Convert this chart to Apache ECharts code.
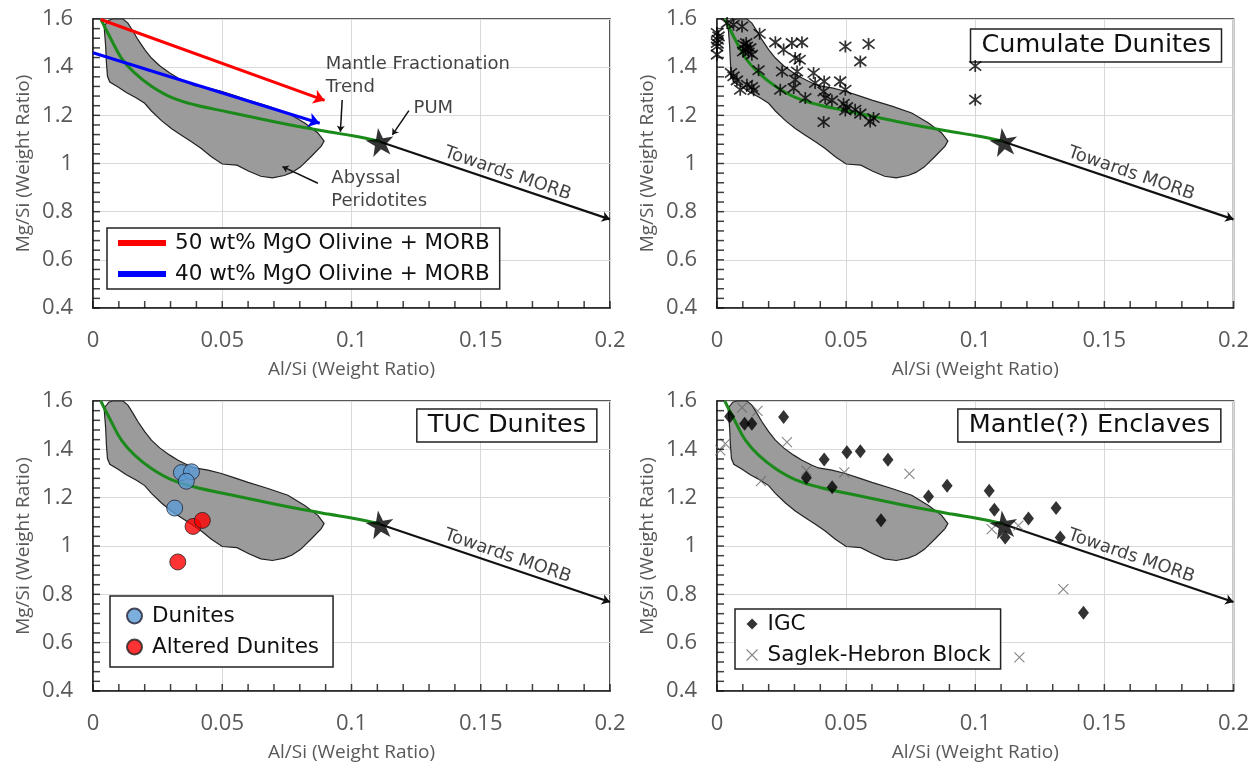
<!DOCTYPE html>
<html>
<head>
<meta charset="utf-8">
<script src="https://cdn.jsdelivr.net/npm/echarts@6/dist/echarts.min.js"></script>
<style>html,body{margin:0;padding:0;background:#fff}#c{width:1260px;height:766px}</style>
</head>
<body>
<div id="c"></div>
<script>
// ---------- data ----------
const xTickValues = [0, 0.05, 0.1, 0.15, 0.2];
const yTickValues = [0.4, 0.6, 0.8, 1.0, 1.2, 1.4, 1.6];
const xMinorTicks = [0,0.01,0.02,0.03,0.04,0.05,0.06,0.07,0.08,0.09,0.1,0.11,0.12,0.13,0.14,0.15,0.16,0.17,0.18,0.19,0.2];
const yMinorTicks = [0.4,0.44,0.48,0.52,0.56,0.6,0.64,0.68,0.72,0.76,0.8,0.84,0.88,0.92,0.96,1.0,1.04,1.08,1.12,1.16,1.2,1.24,1.28,1.32,1.36,1.4,1.44,1.48,1.52,1.56,1.6];

const peridotiteField = [
  [0.0043,1.57],[0.0061,1.595],[0.0077,1.6],[0.0116,1.6],[0.0135,1.583],[0.0155,1.549],[0.0174,1.514],
  [0.020,1.473],[0.0226,1.438],[0.0258,1.406],[0.0297,1.376],[0.0329,1.355],[0.0368,1.334],[0.0393,1.323],
  [0.0445,1.314],[0.0497,1.300],[0.0548,1.282],[0.060,1.263],[0.0677,1.238],[0.0754,1.210],[0.0819,1.168],
  [0.087,1.127],[0.0894,1.093],[0.0883,1.072],[0.0845,1.030],[0.0802,0.985],[0.0770,0.963],[0.074,0.950],
  [0.0694,0.940],[0.0649,0.947],[0.0603,0.968],[0.0557,0.993],[0.0500,0.998],[0.0458,1.028],[0.0419,1.062],
  [0.0381,1.090],[0.0342,1.117],[0.0303,1.145],[0.0265,1.178],[0.0226,1.218],[0.020,1.250],[0.0168,1.272],
  [0.0129,1.295],[0.0097,1.318],[0.0065,1.338],[0.0056,1.362],[0.0052,1.417],[0.0049,1.487],[0.0045,1.542]
];
const fractionationTrend = [
  [0.003,1.6],[0.0071,1.514],[0.011,1.438],[0.0161,1.376],[0.0226,1.321],[0.0303,1.275],[0.0393,1.244],
  [0.0522,1.214],[0.0651,1.185],[0.078,1.157],[0.0909,1.132],[0.101,1.114],[0.111,1.092]
];
const pum = [0.111, 1.09];
const morbEnd = [0.2, 0.768];
const olivine50 = [[0.003,1.598],[0.0896,1.262]];
const olivine40 = [[0.0,1.46],[0.0877,1.167]];

const cumulateDunites = [
  [0.0,1.542],[0.0003,1.514],[0.0,1.500],[0.0,1.486],[0.0,1.452],[0.0006,1.528],[0.0039,1.583],[0.0064,1.576],
  [0.0097,1.569],[0.0165,1.539],[0.0103,1.493],[0.0116,1.486],[0.011,1.472],[0.0129,1.479],[0.0122,1.461],
  [0.0101,1.465],[0.0135,1.452],[0.0113,1.500],[0.0226,1.503],[0.0258,1.473],[0.029,1.500],[0.0329,1.503],
  [0.0303,1.438],[0.032,1.431],[0.0497,1.486],[0.0587,1.496],[0.0555,1.424],[0.0064,1.362],[0.0077,1.345],
  [0.0054,1.376],[0.009,1.306],[0.0116,1.327],[0.0135,1.318],[0.0142,1.304],[0.0161,1.387],[0.0252,1.382],
  [0.0245,1.306],[0.031,1.382],[0.0303,1.348],[0.0297,1.313],[0.0342,1.272],[0.0374,1.376],[0.038,1.334],
  [0.0415,1.341],[0.0413,1.299],[0.0419,1.272],[0.0445,1.262],[0.0477,1.341],[0.0497,1.306],[0.049,1.248],
  [0.0503,1.234],[0.0497,1.220],[0.0535,1.223],[0.0555,1.207],[0.0593,1.174],[0.0606,1.189],[0.0413,1.172],
  [0.100,1.405],[0.100,1.265]
];
const tucDunites = [[0.0342,1.304],[0.0381,1.307],[0.0361,1.268],[0.0316,1.157]];
const tucAltered = [[0.0387,1.081],[0.0423,1.106],[0.0328,0.934]];
const igc = [
  [0.0049,1.536],[0.0107,1.506],[0.0135,1.506],[0.0258,1.534],[0.0415,1.358],[0.0346,1.282],[0.0446,1.243],
  [0.0503,1.388],[0.0555,1.392],[0.0662,1.357],[0.0635,1.107],[0.0819,1.205],[0.0891,1.249],[0.1054,1.229],
  [0.1074,1.150],[0.1116,1.035],[0.1206,1.114],[0.1313,1.157],[0.1329,1.035],[0.1419,0.724]
];
const saglekHebron = [
  [0.0097,1.573],[0.0157,1.559],[0.0013,1.396],[0.0032,1.424],[0.0271,1.430],[0.017,1.268],[0.0346,1.312],
  [0.0493,1.305],[0.0745,1.298],[0.1064,1.070],[0.1167,1.084],[0.1341,0.822],[0.1171,0.539]
];

// annotation anchors (data space, top-left panel)
const noteMantle = [0.090, 1.3635];
const notePum = [0.124, 1.2295];
const noteAbyssal = [0.0922, 0.8925];
const noteMorb = [0.1604, 0.958];
const arrowMantle = [[0.0964,1.264],[0.0957,1.132]];
const arrowPum = [[0.1222,1.2195],[0.1158,1.119]];
const arrowAbyssal = [[0.0870,0.918],[0.0733,0.987]];

// ---------- chart ----------
const AX = 'Open Sans';
const TX = 'DejaVu Sans';
const grids = [
  {left:93, top:19, width:517, height:289},
  {left:717, top:19, width:516.5, height:289},
  {left:93, top:401, width:517, height:290},
  {left:717, top:401, width:516.5, height:290}
];
const STAR = 'path://M50,0L61.8,35.1L97.6,34.5L68.8,56L79.4,90.5L50,69.5L20.6,90.5L31.2,56L2.4,34.5L38.2,35.1Z';
const ASTER = 'path://M0,0L10,10M10,0L0,10M5,-1.5L5,11.5';
const CROSS = 'path://M0,0L10,10M10,0L0,10';
const TICK_LEN = 7;

const xAxes = [], yAxes = [];
grids.forEach((g,i)=>{
  xAxes.push({
    gridIndex:i, type:'value', min:0, max:0.2, interval:0.05,
    name:'Al/Si (Weight Ratio)', nameLocation:'middle', nameGap:52,
    nameTextStyle:{fontFamily:AX, fontSize:19, color:'#595959'},
    axisLine:{show:true, lineStyle:{color:'#222', width:1.5}},
    axisTick:{show:false},
    splitLine:{show:true, lineStyle:{color:'#d9d9d9', width:1}},
    axisLabel:{fontFamily:AX, fontSize:22, color:'#595959', margin:22,
      formatter:v=>{const t=xTickValues.find(u=>Math.abs(u-v)<1e-9);return t===undefined?'':String(t);}}
  });
  yAxes.push({
    gridIndex:i, type:'value', min:0.4, max:1.6, interval:0.2,
    name:'Mg/Si (Weight Ratio)', nameLocation:'middle', nameGap:60,
    nameTextStyle:{fontFamily:AX, fontSize:19, color:'#595959'},
    axisLine:{show:true, lineStyle:{color:'#222', width:1.5}},
    axisTick:{show:false},
    splitLine:{show:true, lineStyle:{color:'#d9d9d9', width:1}},
    axisLabel:{fontFamily:AX, fontSize:22, color:'#595959', margin:20,
      formatter:v=>{const t=yTickValues.find(u=>Math.abs(u-v)<1e-9);return t===undefined?'':String(+t.toFixed(1));}}
  });
});

const series = [];
function note(i, pos, text, extra){
  series.push({type:'scatter', xAxisIndex:i, yAxisIndex:i, silent:true, symbolSize:0, z:20,
    data:[pos],
    label:Object.assign({show:true, formatter:text, fontFamily:TX, fontSize:18, color:'#111',
      lineHeight:23, position:[0,0], align:'left', verticalAlign:'middle'}, extra||{})});
}
function arrow(i, coords, color, width, size, name, z){
  series.push({type:'lines', name:name, coordinateSystem:'cartesian2d', xAxisIndex:i, yAxisIndex:i,
    silent:true, z:z||10, symbol:['none','arrow'], symbolSize:size,
    lineStyle:{color:color, width:width, opacity:1}, itemStyle:{color:color},
    data:[{coords:coords}]});
}
grids.forEach((g,i)=>{
  // inner tick marks: one short bar per tick value, sitting just inside the frame
  series.push({type:'scatter', xAxisIndex:i, yAxisIndex:i, silent:true, z:25, clip:false,
    data:xMinorTicks.map(v=>[v,0.4]), symbol:'rect', symbolSize:[1.5,TICK_LEN],
    symbolOffset:[0,-TICK_LEN/2], itemStyle:{color:'#111'}});
  series.push({type:'scatter', xAxisIndex:i, yAxisIndex:i, silent:true, z:25, clip:false,
    data:yMinorTicks.map(v=>[0,v]), symbol:'rect', symbolSize:[TICK_LEN,1.5],
    symbolOffset:[TICK_LEN/2,0], itemStyle:{color:'#111'}});
  series.push({type:'custom', xAxisIndex:i, yAxisIndex:i, silent:true, z:2, data:[[0,0]],
    renderItem:(p,api)=>({type:'polygon', shape:{points:peridotiteField.map(q=>api.coord(q))},
      style:{fill:'#9b9b9b', stroke:'#222', lineWidth:1.2}})});
  series.push({type:'line', xAxisIndex:i, yAxisIndex:i, silent:true, z:5, data:fractionationTrend,
    smooth:0.4, showSymbol:false, symbol:'none', lineStyle:{color:'#1b8a1b', width:3}});
  arrow(i, [pum, morbEnd], '#111', 2.2, 8, null, 6);
  note(i, noteMorb, 'Towards MORB', {position:'inside', align:'center', rotate:-19});
});
// panel 1 extras
arrow(0, olivine50, '#ff0000', 3, 11, '50 wt% MgO Olivine + MORB', 7);
arrow(0, olivine40, '#0000ff', 3, 11, '40 wt% MgO Olivine + MORB', 7);
arrow(0, arrowMantle, '#111', 1.5, 6, null, 8);
arrow(0, arrowPum, '#111', 1.5, 6, null, 8);
arrow(0, arrowAbyssal, '#111', 1.5, 6, null, 8);
note(0, noteMantle, 'Mantle Fractionation\nTrend');
note(0, notePum, 'PUM');
note(0, noteAbyssal, 'Abyssal\nPeridotites');
// panel 2
series.push({type:'scatter', name:'Cumulate Dunites', xAxisIndex:1, yAxisIndex:1, z:12, data:cumulateDunites,
  symbol:ASTER, symbolSize:12, itemStyle:{color:'rgba(0,0,0,0)', borderColor:'#000', borderWidth:1.7}});
// panel 3
series.push({type:'scatter', name:'Altered Dunites', xAxisIndex:2, yAxisIndex:2, z:12, data:tucAltered,
  symbol:'circle', symbolSize:16, itemStyle:{color:'#ff0000', borderColor:'#222', borderWidth:1}});
series.push({type:'scatter', name:'Dunites', xAxisIndex:2, yAxisIndex:2, z:12, data:tucDunites,
  symbol:'circle', symbolSize:16, itemStyle:{color:'#5b9bd5', borderColor:'#223', borderWidth:1}});
// panel 4
series.push({type:'scatter', name:'Saglek-Hebron Block', xAxisIndex:3, yAxisIndex:3, z:12, data:saglekHebron,
  symbol:CROSS, symbolSize:10, itemStyle:{color:'rgba(0,0,0,0)', borderColor:'#666', borderWidth:1.1}});
series.push({type:'scatter', name:'IGC', xAxisIndex:3, yAxisIndex:3, z:12, data:igc,
  symbol:'diamond', symbolSize:[11,14], itemStyle:{color:'#000'}});
// stars on top
grids.forEach((g,i)=>{
  series.push({type:'scatter', xAxisIndex:i, yAxisIndex:i, silent:true, z:15, data:[pum],
    symbol:STAR, symbolSize:28, symbolRotate:8, itemStyle:{color:'#000'}});
});

const legBase = {orient:'vertical', borderColor:'#222', borderWidth:1.5, backgroundColor:'#fff',
  textStyle:{fontFamily:TX, fontSize:21.5, color:'#111', padding:[0,0,0,5]}, itemGap:9, selectedMode:false, z:30};
const titleBase = {padding:[3,11], borderColor:'#222', borderWidth:1.5, backgroundColor:'#fff'};
const titleText = {fontFamily:TX, fontSize:25.5, fontWeight:'normal', color:'#111', lineHeight:27};
const option = {
  animation:false,
  grid:grids.map(g=>Object.assign({show:true, borderColor:'#222', borderWidth:1.5, backgroundColor:'transparent'}, g)),
  xAxis:xAxes, yAxis:yAxes, series:series,
  legend:[
    Object.assign({}, legBase, {left:107, top:228, padding:[4,10,4,11], itemWidth:46, itemHeight:4,
      data:[{name:'50 wt% MgO Olivine + MORB', icon:'rect', itemStyle:{color:'#ff0000'}},
            {name:'40 wt% MgO Olivine + MORB', icon:'rect', itemStyle:{color:'#0000ff'}}]}),
    Object.assign({}, legBase, {left:110, top:596, padding:[9,14,9,16], itemWidth:15, itemHeight:15,
      data:['Dunites','Altered Dunites']}),
    Object.assign({}, legBase, {left:735, top:609, padding:[4,10,3,11], itemWidth:11, itemHeight:11,
      data:[{name:'IGC', icon:'diamond', itemStyle:{color:'#000'}},
            {name:'Saglek-Hebron Block', icon:CROSS, itemStyle:{color:'rgba(0,0,0,0)', borderColor:'#666', borderWidth:1.1}}]})
  ],
  title:[
    Object.assign({text:'Cumulate Dunites', right:38, top:29, textStyle:titleText}, titleBase),
    Object.assign({text:'TUC Dunites', right:663, top:409, textStyle:titleText}, titleBase),
    Object.assign({text:'Mantle(?) Enclaves', right:39, top:409, textStyle:titleText}, titleBase)
  ]
};
const chart = echarts.init(document.getElementById('c'), null, {renderer:'canvas'});
chart.setOption(option);
</script>
</body>
</html>
